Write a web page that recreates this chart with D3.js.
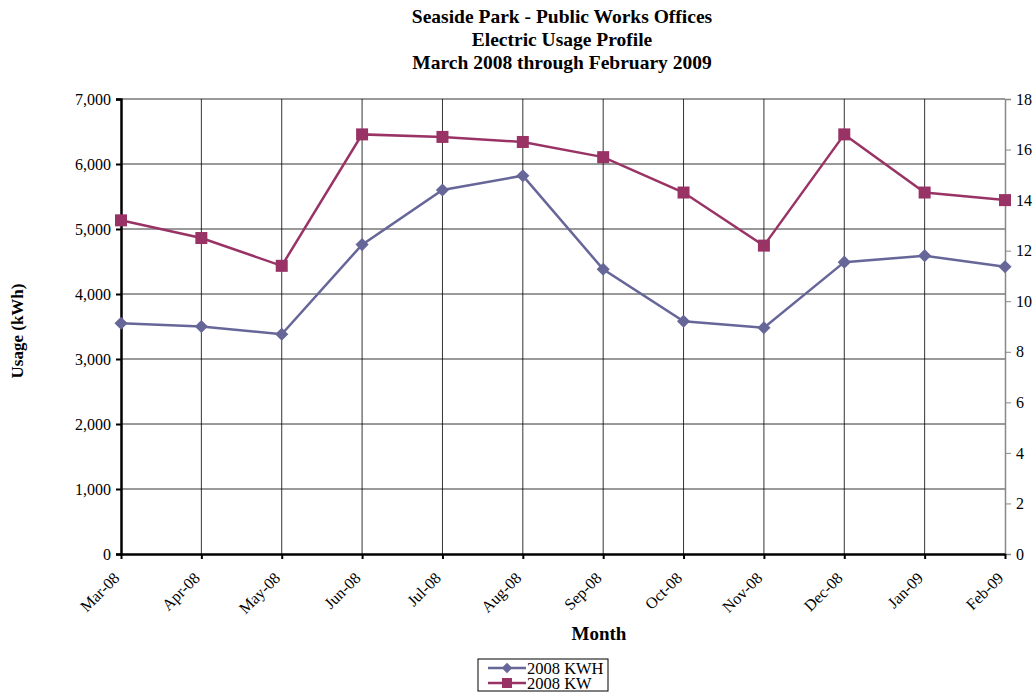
<!DOCTYPE html>
<html>
<head>
<meta charset="utf-8">
<script src="https://cdn.jsdelivr.net/npm/d3@7"></script>
<style>
  body { margin: 0; background: #fff; }
  svg text { font-family: "Liberation Serif", "Times New Roman", serif; fill: #000; }
</style>
</head>
<body>
<svg id="chart" width="1033" height="692"></svg>
<script>
"use strict";
// monthly data
const months = ["Mar-08","Apr-08","May-08","Jun-08","Jul-08","Aug-08","Sep-08","Oct-08","Nov-08","Dec-08","Jan-09","Feb-09"];
const kwh = [3550, 3500, 3380, 4760, 5600, 5820, 4380, 3580, 3480, 4490, 4590, 4420];
const kw = [13.2, 12.5, 11.4, 16.6, 16.5, 16.3, 15.7, 14.3, 12.2, 16.6, 14.3, 14.0];
const titleLines = ["Seaside Park - Public Works Offices", "Electric Usage Profile", "March 2008 through February 2009"];
const leftTicks = [0, 1000, 2000, 3000, 4000, 5000, 6000, 7000];
const rightTicks = [0, 2, 4, 6, 8, 10, 12, 14, 16, 18];

const svg = d3.select("#chart");
const m = {left: 121, right: 1005, top: 99, bottom: 554};
const kwhColor = "#666699", kwColor = "#993366";

const x = d3.scalePoint().domain(months).range([m.left, m.right]);
const y = d3.scaleLinear().domain([0, 7000]).range([m.bottom, m.top]);
const y2 = d3.scaleLinear().domain([0, 18]).range([m.bottom, m.top]);

// title
svg.append("text").attr("text-anchor", "middle")
  .style("font-size", "19.5px").style("font-weight", "bold")
  .selectAll("tspan").data(titleLines).join("tspan")
  .attr("x", 562).attr("y", (d, i) => 23 + i * 23).text(d => d);

// grid
const grid = svg.append("g");
grid.selectAll("line.h").data(leftTicks.slice(1)).join("line")
  .attr("x1", m.left).attr("x2", m.right).attr("y1", d => y(d)).attr("y2", d => y(d))
  .attr("stroke", "#000").attr("stroke-width", 0.8);
grid.selectAll("line.v").data(months.slice(1, -1)).join("line")
  .attr("x1", d => x(d)).attr("x2", d => x(d)).attr("y1", m.top).attr("y2", m.bottom)
  .attr("stroke", "#000").attr("stroke-width", 0.8);

// right axis (gray)
const ra = svg.append("g").attr("transform", `translate(${m.right},0)`)
  .call(d3.axisRight(y2).tickValues(rightTicks).tickSize(6).tickPadding(5));
ra.select(".domain").attr("stroke", "#888").attr("stroke-width", 1.5);
ra.selectAll(".tick line").attr("stroke", "#888");
ra.selectAll("text").style("font-size", "16px").style("font-family", "Liberation Serif");

// left axis
const la = svg.append("g").attr("transform", `translate(${m.left},0)`)
  .call(d3.axisLeft(y).tickValues(leftTicks).tickFormat(d3.format(",")).tickSize(5).tickPadding(5));
la.select(".domain").attr("stroke", "#000").attr("stroke-width", 2.5);
la.selectAll(".tick line").attr("stroke", "#000").attr("stroke-width", 2);
la.selectAll("text").style("font-size", "16px").style("font-family", "Liberation Serif");

// bottom axis
const ba = svg.append("g").attr("transform", `translate(0,${m.bottom})`)
  .call(d3.axisBottom(x).tickSize(5).tickSizeOuter(0));
ba.select(".domain").attr("stroke", "#000").attr("stroke-width", 2.5);
ba.selectAll(".tick line").attr("stroke", "#000").attr("stroke-width", 2);
ba.selectAll("text").style("font-size", "16px").style("font-family", "Liberation Serif")
  .attr("text-anchor", "end").attr("x", 0).attr("y", 0).attr("dx", 0).attr("dy", 0)
  .attr("transform", "translate(-1,25) rotate(-45)");

// axis titles
svg.append("text").attr("transform", "translate(23,331) rotate(-90)").attr("text-anchor", "middle")
  .style("font-size", "17px").style("font-weight", "bold").text("Usage (kWh)");
svg.append("text").attr("x", 599).attr("y", 640).attr("text-anchor", "middle")
  .style("font-size", "19px").style("font-weight", "bold").text("Month");

// series
const lineKwh = d3.line().x((d, i) => x(months[i])).y(d => y(d));
const lineKw = d3.line().x((d, i) => x(months[i])).y(d => y2(d));
svg.append("path").datum(kwh).attr("d", lineKwh).attr("fill", "none")
  .attr("stroke", kwhColor).attr("stroke-width", 2.5);
svg.append("path").datum(kw).attr("d", lineKw).attr("fill", "none")
  .attr("stroke", kwColor).attr("stroke-width", 2.5);

const diamond = d3.symbol().type(d3.symbolDiamond2).size(110);
svg.selectAll("path.kwh").data(kwh).join("path").attr("class", "kwh")
  .attr("d", diamond).attr("fill", kwhColor)
  .attr("transform", (d, i) => `translate(${x(months[i])},${y(d)})`);
svg.selectAll("rect.kw").data(kw).join("rect").attr("class", "kw")
  .attr("x", (d, i) => x(months[i]) - 6).attr("y", d => y2(d) - 6)
  .attr("width", 12).attr("height", 12).attr("fill", kwColor);

// legend
const lg = svg.append("g").attr("transform", "translate(478,659)");
lg.append("rect").attr("width", 130).attr("height", 32).attr("fill", "#fff")
  .attr("stroke", "#000").attr("stroke-width", 1);
const items = [{name: "2008 KWH", color: kwhColor, kind: "d"}, {name: "2008 KW", color: kwColor, kind: "s"}];
items.forEach((it, i) => {
  const cy = 9 + i * 15;
  lg.append("line").attr("x1", 10).attr("x2", 48).attr("y1", cy).attr("y2", cy)
    .attr("stroke", it.color).attr("stroke-width", 2.5);
  if (it.kind === "d") {
    lg.append("path").attr("d", d3.symbol().type(d3.symbolDiamond2).size(70))
      .attr("fill", it.color).attr("transform", `translate(29,${cy})`);
  } else {
    lg.append("rect").attr("x", 24).attr("y", cy - 5).attr("width", 10).attr("height", 10).attr("fill", it.color);
  }
  lg.append("text").attr("x", 49).attr("y", cy + 5.5).style("font-size", "16.5px").text(it.name);
});
</script>
</body>
</html>
